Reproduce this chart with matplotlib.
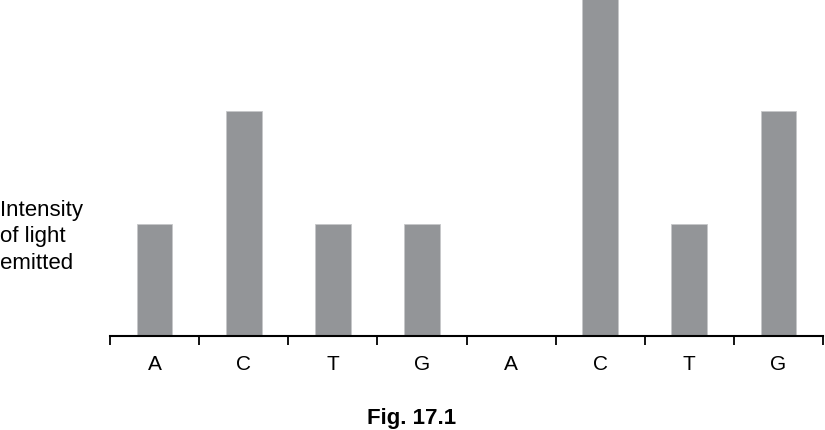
import matplotlib.pyplot as plt
import numpy as np

bases = ['A', 'C', 'T', 'G', 'A', 'C', 'T', 'G']
intensity = [1, 2, 1, 1, 0, 3, 1, 2]

plt.rcParams['font.family'] = ['Liberation Sans', 'DejaVu Sans']

fig = plt.figure(figsize=(8.25, 4.31), dpi=100)
ax = fig.add_axes([110 / 825, 94 / 431, 713 / 825, 337 / 431])

x = np.arange(len(bases))
ax.bar(x, intensity, width=0.40, color='#939598', edgecolor='#c6c7c9', linewidth=0.6)

ax.set_xlim(-0.5, len(bases) - 0.5)
ax.set_ylim(0, 3)

# boundary ticks, labels sit in between
ax.set_xticks(np.arange(len(bases) + 1) - 0.5)
ax.set_xticklabels([])
ax.set_xticks(x, minor=True)
ax.set_xticklabels(bases, minor=True, fontsize=15)
ax.tick_params(axis='x', which='major', direction='out', length=6.5, width=1.3, color='black')
ax.tick_params(axis='x', which='minor', length=0, pad=13)
ax.set_yticks([])

for s in ['top', 'right', 'left']:
    ax.spines[s].set_visible(False)
ax.spines['bottom'].set_linewidth(1.5)

fig.text(0.0, 1 - 237 / 431, 'Intensity\nof light\nemitted', fontsize=16,
         ha='left', va='center', linespacing=1.33)
fig.text(412 / 825, 1 - 419 / 431, 'Fig. 17.1', fontsize=16, fontweight='bold',
         ha='center', va='center')

fig.savefig('out.png', dpi=100)
